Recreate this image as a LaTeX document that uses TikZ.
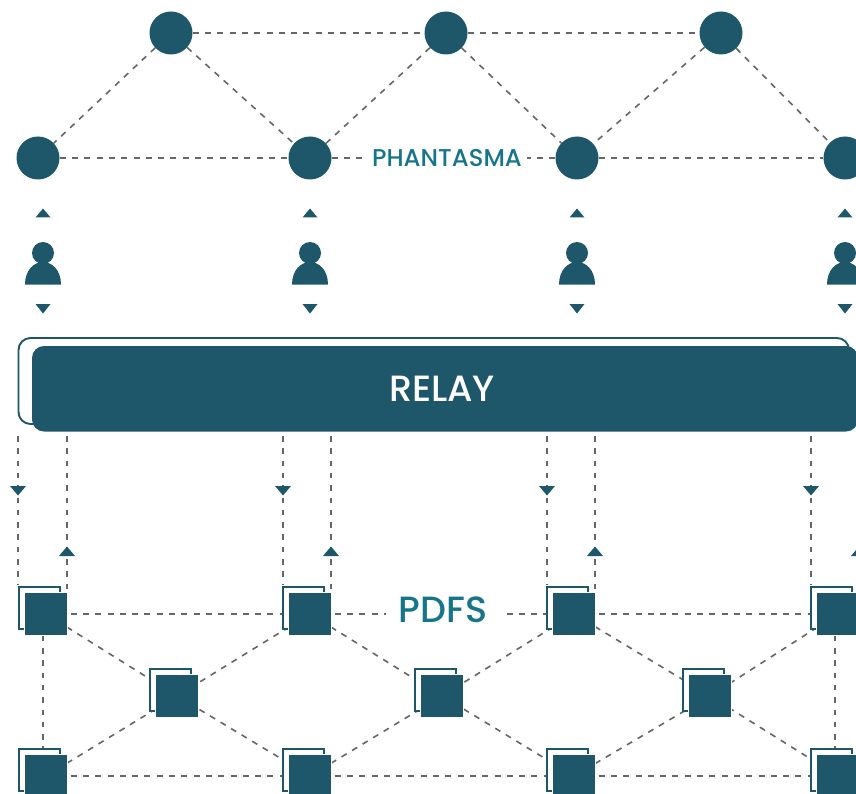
\documentclass[tikz,border=0pt]{standalone}
\usepackage{fontspec}
\setmainfont{Poppins}
\newfontfamily\medfont{Poppins Medium}
\usetikzlibrary{backgrounds}
\definecolor{teal1}{HTML}{1D5769}
\definecolor{teal2}{HTML}{17758A}
\definecolor{dashc}{HTML}{666666}
\tikzset{
  x=1pt,y=-1pt,
  circ/.style={circle,fill=teal1,minimum size=43pt,inner sep=0pt},
  backsq/.style={rectangle,draw=teal1,line width=1.9pt,fill=white,minimum size=41.5pt,inner sep=0pt},
  frontsq/.style={rectangle,fill=teal1,draw=white,line width=0.5pt,minimum size=43pt,inner sep=0pt},
  dash line/.style={draw=dashc,line width=1.3pt,dash pattern=on 6pt off 6.3pt},
  diag line/.style={draw=dashc,line width=1.6pt,dash pattern=on 6pt off 6.3pt},
  vdash line/.style={draw=dashc,line width=1.3pt,dash pattern=on 5.5pt off 6.8pt},
  tri/.style={fill=teal1,draw=none},
  biglabel/.style={text=teal2,fill=white,inner sep=0pt}
}
\begin{document}
\begin{tikzpicture}
\useasboundingbox (0,0) rectangle (856,794);
\clip (0,0) rectangle (856,794);
% mesh of circles
\foreach \n/\cx in {t1/171,t2/446,t3/721} \node[circ] (\n) at (\cx,33) {};
\foreach \n/\cx in {c1/38,c2/310,c3/577,c4/845} \node[circ] (\n) at (\cx,158) {};
\node[biglabel,minimum width=160pt,minimum height=24pt] (phantasma) at (447,158) {\medfont\fontsize{24.3}{26}\selectfont PHANTASMA};
\begin{scope}[on background layer]
\foreach \a/\b in {t1/t2,t2/t3,c1/c2,c3/c4}
  \draw[dash line] (\a) -- (\b);
\draw[dash line] (c2) -- (phantasma);
\draw[dash line] (c3) -- (phantasma);
\foreach \a/\b in {t1/c1,t1/c2,t2/c2,t2/c3,t3/c3,t3/c4}
  \draw[diag line] (\a) -- (\b);
\end{scope}
% people and their small arrows
\foreach \px in {43,310,577,845}{
  \fill[teal1] (\px,253) circle (11);
  \fill[teal1] (\px-18,284.5) .. controls (\px-18,270) and (\px-9,262) .. (\px,262)
     .. controls (\px+9,262) and (\px+18,270) .. (\px+18,284.5) -- cycle;
  \fill[tri] (\px-7.5,217.5) -- (\px,208.5) -- (\px+7.5,217.5) -- cycle;
  \fill[tri] (\px-7.5,304) -- (\px,313.5) -- (\px+7.5,304) -- cycle;
}
% relay
\node[draw=teal1,line width=1.9pt,fill=white,rounded corners=12pt,minimum width=830.5pt,minimum height=86pt,inner sep=0pt] (relayback) at (433.75,381) {};
\node[fill=teal1,rounded corners=12pt,minimum width=826pt,minimum height=85.5pt,inner sep=0pt,text=white] (relay) at (445,388.75) {};
\node[text=white,inner sep=0pt] (relaytext) at (442,388.5) {\medfont\fontsize{36.5}{38}\selectfont RELAY};
% squares
\foreach \n/\cx/\cy in {f1/46/614,f2/310/614,f3/574/614,f4/838/614,
                        m1/177/696,m2/442/696,m3/710/696,
                        l1/46/776,l2/310/776,l3/574/776,l4/838/776}{
  \node[backsq] (b\n) at (\cx-6.5,\cy-6) {};
  \node[frontsq] (\n) at (\cx,\cy) {};
}
\node[biglabel,minimum width=114pt,minimum height=36pt] (pdfs) at (443,614) {};
\node[text=teal2,inner sep=0pt] (pdfstext) at (443,610) {\medfont\fontsize{36.5}{38}\selectfont PDFS};
\begin{scope}[on background layer]
\foreach \a/\b in {f1/f2,f3/f4,l1/l2,l2/l3,l3/l4}
  \draw[dash line] (\a.center) -- (\b.center);
\draw[dash line] (f2.center) -- (pdfs.center);
\draw[dash line] (f3.center) -- (pdfs.center);
\foreach \a/\b in {f1/m1,f2/m1,f2/m2,f3/m2,f3/m3,f4/m3,
                   l1/m1,l2/m1,l2/m2,l3/m2,l3/m3,l4/m3}
  \draw[diag line] (\a.center) -- (\b.center);
\draw[vdash line] ([xshift=-3pt]f1.south) -- ([xshift=-3pt]l1.north);
\draw[vdash line] ([xshift=-3pt]f4.south) -- ([xshift=-3pt]l4.north);
\end{scope}
% relay to squares
\foreach \i/\dx/\ux in {1/18/67,2/283/331,3/547/595,4/811/859}{
  \coordinate (rd\i) at (\dx,436);
  \coordinate (ru\i) at (\ux,436);
  \coordinate (sd\i) at (\dx,585);
  \coordinate (su\i) at (\ux,590);
  \draw[vdash line] (rd\i) -- (sd\i);
  \draw[vdash line] (ru\i) -- (su\i);
  \fill[tri] (\dx-8,486) -- (\dx,495.5) -- (\dx+8,486) -- cycle;
  \fill[tri] (\ux-8,556) -- (\ux,546.5) -- (\ux+8,556) -- cycle;
}
\foreach \n/\cx/\cy in {f1/46/614,f2/310/614,f3/574/614,f4/838/614}{
  \node[backsq] at (\cx-6.5,\cy-6) {};
  \node[frontsq] at (\cx,\cy) {};
}
\end{tikzpicture}
\end{document}
